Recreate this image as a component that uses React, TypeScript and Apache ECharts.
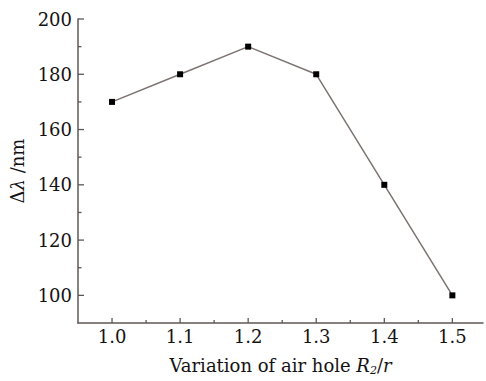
import React, { useEffect, useRef } from "react";
import * as echarts from "echarts";

const ratios = [1.0, 1.1, 1.2, 1.3, 1.4, 1.5];
const deltaLambda = [170, 180, 190, 180, 140, 100];
const xRange = [0.95, 1.545];
const yRange = [90, 200];
const xMajorTicks = [1.0, 1.1, 1.2, 1.3, 1.4, 1.5];
const xMinorTicks = [1.05, 1.15, 1.25, 1.35, 1.45];
const yMajorTicks = [100, 120, 140, 160, 180, 200];
const yMinorTicks = [110, 130, 150, 170, 190];

const FONT = "DejaVu Serif";
const AXIS_COLOR = "#5f5754";
const TEXT_COLOR = "#151213";

function tickSeries(values: number[], dir: "x" | "y", len: number) {
  return {
    type: "custom",
    silent: true,
    clip: false,
    z: 5,
    data: values.map((v) => [v]),
    renderItem: (_params: any, api: any) => {
      const v = api.value(0);
      if (dir === "y") {
        const p = api.coord([xRange[0], v]);
        return {
          type: "line",
          shape: { x1: p[0], y1: p[1], x2: p[0] + len, y2: p[1] },
          style: { stroke: AXIS_COLOR, lineWidth: 1.3 },
        };
      }
      const p = api.coord([v, yRange[0]]);
      return {
        type: "line",
        shape: { x1: p[0], y1: p[1], x2: p[0], y2: p[1] - len },
        style: { stroke: AXIS_COLOR, lineWidth: 1.3 },
      };
    },
  };
}

export default function App() {
  const ref = useRef<HTMLDivElement>(null);
  useEffect(() => {
    if (!ref.current) return;
    const chart = echarts.init(ref.current, null, { renderer: "svg" });
    const labelStyle = { fontFamily: FONT, fontSize: 18, color: TEXT_COLOR };
    chart.setOption({
      animation: false,
      grid: { left: 78, right: 0, top: 19, bottom: 55 },
      xAxis: {
        type: "value",
        min: xRange[0],
        max: xRange[1],
        splitNumber: 6,
        axisLine: { show: true, lineStyle: { color: AXIS_COLOR, width: 1.5 } },
        axisTick: { show: false },
        axisLabel: {
          show: true,
          formatter: (v: number) =>
            v < xMajorTicks[0] - 0.001 || v > xMajorTicks[xMajorTicks.length - 1] + 0.001 ? "" : v.toFixed(1),
          margin: 4,
          ...labelStyle,
        },
        splitLine: { show: false },
        name: "Variation of air hole {i|R}{sub|2}/{i|r}",
        nameLocation: "middle",
        nameGap: 31,
        nameTextStyle: {
          ...labelStyle,
          lineHeight: 22,
          rich: {
            i: { ...labelStyle, fontStyle: "italic", lineHeight: 22 },
            sub: { fontFamily: FONT, fontSize: 11, fontStyle: "italic", color: TEXT_COLOR, lineHeight: 11, verticalAlign: "bottom" },
          },
        },
      },
      yAxis: {
        type: "value",
        min: yRange[0],
        max: yRange[1],
        splitNumber: 5,
        axisLine: { show: true, lineStyle: { color: AXIS_COLOR, width: 1.5 } },
        axisTick: { show: false },
        axisLabel: {
          show: true,
          formatter: (v: number) =>
            v < yMajorTicks[0] || v > yMajorTicks[yMajorTicks.length - 1] ? "" : String(v),
          margin: 6,
          ...labelStyle,
        },
        splitLine: { show: false },
        name: "Δ{i|λ} /nm",
        nameLocation: "middle",
        nameRotate: 90,
        nameGap: 44,
        nameTextStyle: {
          ...labelStyle,
          rich: {
            i: { ...labelStyle, fontStyle: "italic" },
          },
        },
      },
      series: [
        tickSeries(yMajorTicks, "y", 6),
        tickSeries(yMinorTicks, "y", 3.5),
        tickSeries(xMajorTicks, "x", 5),
        tickSeries(xMinorTicks, "x", 3),
        {
          type: "line",
          data: ratios.map((r, i) => [r, deltaLambda[i]]),
          symbol: "rect",
          symbolSize: 6,
          itemStyle: { color: "#000000" },
          lineStyle: { color: "#7d7370", width: 1.5 },
          z: 6,
        },
      ],
    });
    return () => chart.dispose();
  }, []);
  return (
    <div
      ref={ref}
      style={{ position: "fixed", left: 0, top: 0, width: 486, height: 381, background: "#fff" }}
    />
  );
}
